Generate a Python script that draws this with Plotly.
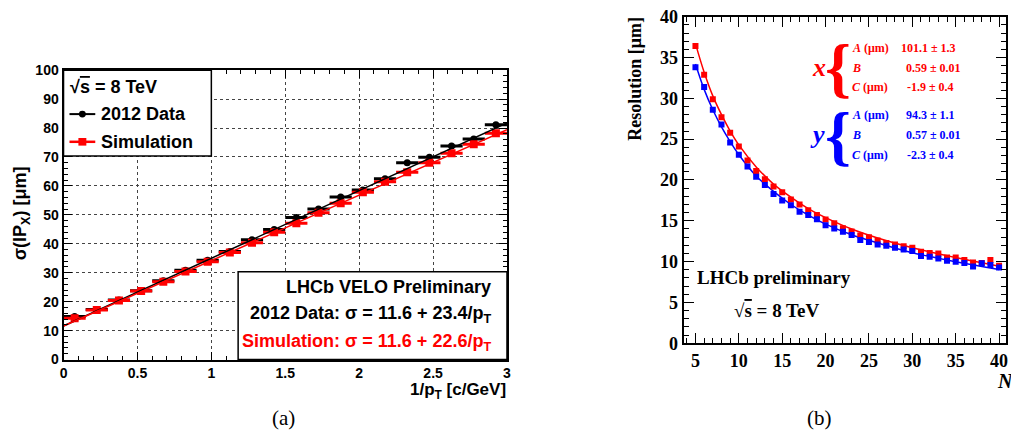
import plotly.graph_objects as go

# ---------------- data: panel (a) ----------------
inv_pt = [0.075, 0.225, 0.375, 0.525, 0.675, 0.825, 0.975, 1.125, 1.275, 1.425,
          1.575, 1.725, 1.875, 2.025, 2.175, 2.325, 2.475, 2.625, 2.775, 2.925]
data_sigma = [14.9, 17.3, 20.6, 23.8, 27.2, 30.9, 34.3, 37.3, 41.4, 44.9,
              49.1, 52.0, 56.2, 58.6, 62.5, 68.0, 69.9, 73.8, 76.2, 81.1]
sim_sigma = [14.3, 17.1, 20.4, 23.7, 26.9, 30.4, 33.8, 37.0, 40.4, 44.0,
             47.1, 50.7, 54.0, 57.8, 61.4, 64.7, 68.0, 71.3, 74.4, 78.2]
bin_half = [0.075] * 20
fit_x = [0.0, 3.0]
data_fit = [11.6, 81.8]
sim_fit = [11.6, 79.4]

# ---------------- data: panel (b) ----------------
n_hits = [5, 6, 7, 8, 9, 10, 11, 12, 13, 14, 15, 16, 17, 18, 19, 20, 21, 22,
          23, 24, 25, 26, 27, 28, 29, 30, 31, 32, 33, 34, 35, 36, 37, 38, 39, 40]
res_x = [36.4, 32.9, 29.9, 27.7, 25.8, 24.1, 22.4, 21.1, 20.1, 19.2, 18.5, 17.6,
         17.0, 16.3, 15.7, 15.15, 14.7, 14.1, 13.7, 13.2, 13.0, 12.6, 12.3, 12.1,
         11.9, 11.7, 11.2, 11.05, 11.0, 10.5, 10.5, 10.2, 9.9, 9.85, 10.2, 9.5]
res_y = [33.8, 31.4, 28.6, 26.8, 24.6, 23.1, 21.65, 20.4, 19.4, 18.3, 17.5, 16.9,
         16.1, 15.7, 15.2, 14.45, 14.05, 13.65, 13.25, 12.65, 12.4, 12.1, 11.95, 11.7,
         11.5, 11.3, 10.7, 10.6, 10.4, 10.1, 10.0, 9.85, 9.4, 9.8, 9.6, 9.3]
curve_n = [5, 6, 7, 8, 9, 10, 12, 14, 16, 18, 20, 23, 26, 30, 35, 40]
curve_x = [36.7, 33.2, 30.3, 28.0, 26.0, 24.3, 21.6, 19.5, 17.9, 16.5, 15.4, 14.0, 12.9, 11.7, 10.5, 9.45]
curve_y = [34.2, 31.1, 28.6, 26.5, 24.7, 23.1, 20.5, 18.6, 17.0, 15.7, 14.6, 13.3, 12.3, 11.1, 10.0, 9.05]

fit_rows_x = [("<i>A</i> (μm)", "101.1 ± 1.3"), ("<i>B</i>", "0.59 ± 0.01"), ("<i>C</i> (μm)", "-1.9 ± 0.4")]
fit_rows_y = [("<i>A</i> (μm)", "94.3 ± 1.1"), ("<i>B</i>", "0.57 ± 0.01"), ("<i>C</i> (μm)", "-2.3 ± 0.4")]

W, H = 1011, 445
def fx(p): return p / W
def fy(p): return 1 - p / H

SANS = "Liberation Sans"
SERIF = "Liberation Serif"
RED = "#ff0000"
BLUE = "#0000ff"

fig = go.Figure()

# panel (a) traces
fig.add_trace(go.Scatter(x=inv_pt, y=data_sigma, mode="markers",
                         marker=dict(symbol="circle", size=7, color="black"),
                         error_x=dict(type="data", array=bin_half, color="black", thickness=3, width=0),
                         xaxis="x", yaxis="y", showlegend=False))
fig.add_trace(go.Scatter(x=inv_pt, y=sim_sigma, mode="markers",
                         marker=dict(symbol="square", size=8, color=RED),
                         error_x=dict(type="data", array=bin_half, color=RED, thickness=3, width=0),
                         xaxis="x", yaxis="y", showlegend=False))
fig.add_trace(go.Scatter(x=fit_x, y=data_fit, mode="lines", line=dict(color="black", width=1.5),
                         xaxis="x", yaxis="y", showlegend=False))
fig.add_trace(go.Scatter(x=fit_x, y=sim_fit, mode="lines", line=dict(color=RED, width=1.5),
                         xaxis="x", yaxis="y", showlegend=False))

# panel (b) traces
fig.add_trace(go.Scatter(x=curve_n, y=curve_x, mode="lines", line=dict(color=RED, width=1.5, shape="spline"),
                         xaxis="x2", yaxis="y2", showlegend=False))
fig.add_trace(go.Scatter(x=curve_n, y=curve_y, mode="lines", line=dict(color=BLUE, width=1.5, shape="spline"),
                         xaxis="x2", yaxis="y2", showlegend=False))
fig.add_trace(go.Scatter(x=n_hits, y=res_x, mode="markers", marker=dict(symbol="square", size=6, color=RED),
                         xaxis="x2", yaxis="y2", showlegend=False))
fig.add_trace(go.Scatter(x=n_hits, y=res_y, mode="markers", marker=dict(symbol="square", size=6, color=BLUE),
                         xaxis="x2", yaxis="y2", showlegend=False))

def axis_common(font_family, size, ticklen):
    return dict(showline=True, linecolor="black", linewidth=2, mirror="allticks",
                ticks="inside", ticklen=ticklen, tickwidth=1, tickcolor="black",
                zeroline=False, tickfont=dict(family=font_family, size=size, color="black", weight="bold"))

ax = axis_common(SANS, 14, 8)
fig.update_layout(
    width=W, height=H, margin=dict(l=0, r=0, t=0, b=0),
    paper_bgcolor="white", plot_bgcolor="white",
    xaxis=dict(**ax, domain=[fx(60), fx(507)], range=[0, 3], tick0=0, dtick=0.5,
               showgrid=True, gridcolor="#444", griddash="dot", gridwidth=1,
               minor=dict(ticks="inside", dtick=0.1, ticklen=4, tickcolor="black", showgrid=False),
               anchor="y"),
    yaxis=dict(**ax, domain=[1 - 366 / H, 1 - 63 / H], range=[0, 100], tick0=0, dtick=10,
               showgrid=True, gridcolor="#444", griddash="dot", gridwidth=1,
               minor=dict(ticks="inside", dtick=2, ticklen=4, tickcolor="black", showgrid=False),
               anchor="x"),
)
ax2 = axis_common(SERIF, 18, 10)
fig.update_layout(
    xaxis2=dict(**ax2, domain=[fx(685), fx(1010)], range=[3.63, 40.8], tick0=0, dtick=5,
                showgrid=False,
                minor=dict(ticks="inside", dtick=1, ticklen=5, tickcolor="black", showgrid=False),
                anchor="y2"),
    yaxis2=dict(**ax2, domain=[1 - 349 / H, 1 - 7 / H], range=[0, 40], tick0=0, dtick=5,
                showgrid=False,
                minor=dict(ticks="inside", dtick=1, ticklen=5, tickcolor="black", showgrid=False),
                anchor="x2"),
)

shapes = []
annos = []

def text(x, y, s, size, family, color="black", xanchor="left", bold=True, angle=0, italic=False):
    annos.append(dict(x=fx(x), y=fy(y), xref="paper", yref="paper", text=s, showarrow=False,
                      xanchor=xanchor, yanchor="middle", textangle=angle,
                      font=dict(family=family, size=size, color=color,
                                weight="bold" if bold else "normal",
                                style="italic" if italic else "normal")))

def rect(x0, y0, x1, y1, fill="white", line="black", lw=1.5):
    shapes.append(dict(type="rect", xref="paper", yref="paper", x0=fx(x0), x1=fx(x1), y0=fy(y1), y1=fy(y0),
                       fillcolor=fill, line=dict(color=line, width=lw), layer="above"))

def seg(x0, y0, x1, y1, color, lw):
    shapes.append(dict(type="line", xref="paper", yref="paper", x0=fx(x0), x1=fx(x1), y0=fy(y0), y1=fy(y1),
                       line=dict(color=color, width=lw), layer="above"))

# panel (a) legend box
rect(60, 63, 209, 153)
text(65, 81, "√<span style='text-decoration:overline'>s</span> = 8 TeV", 18, SANS)
seg(66, 109, 92, 109, "black", 2)
shapes.append(dict(type="circle", xref="paper", yref="paper", x0=fx(75.5), x1=fx(82.5), y0=fy(112.5), y1=fy(105.5),
                   fillcolor="black", line=dict(color="black", width=0), layer="above"))
text(96, 109, "2012 Data", 18, SANS)
seg(66, 138, 92, 138, RED, 2.5)
shapes.append(dict(type="rect", xref="paper", yref="paper", x0=fx(75), x1=fx(83), y0=fy(142), y1=fy(134),
                   fillcolor=RED, line=dict(color=RED, width=0), layer="above"))
text(96, 138, "Simulation", 18, SANS)

# panel (a) result box
rect(236, 274, 507, 366)
text(493, 290, "LHCb VELO Preliminary", 18, SANS, xanchor="right")
text(493, 319, "2012 Data: σ = 11.6 + 23.4/p<sub>T</sub>", 18, SANS, xanchor="right")
text(493, 348, "Simulation: σ = 11.6 + 22.6/p<sub>T</sub>", 18, SANS, color=RED, xanchor="right")

# axis titles (a)
text(18, 213, "σ(IP<sub>X</sub>) [μm]", 18, SANS, xanchor="center", angle=-90)
text(508, 399, "1/p<sub>T</sub> [c/GeV]", 17, SANS, xanchor="right")

# panel (b) texts
text(636, 72, "Resolution [μm]", 18, SERIF, xanchor="center", angle=-90)
text(999, 388, "N", 20, SERIF, italic=True)
text(821, 60, "x", 26, SERIF, color=RED, xanchor="center", italic=True)
text(841, 60, "{", 66, SERIF, color=RED, xanchor="center", bold=True)
text(820, 130, "y", 26, SERIF, color=BLUE, xanchor="center", italic=True)
text(841, 131, "{", 66, SERIF, color=BLUE, xanchor="center", bold=True)
for (lab, val), yy, vx in zip(fit_rows_x, [40, 61, 81], [902, 907, 908]):
    text(853, yy, lab, 12, SERIF, color=RED)
    text(vx, yy, val, 12, SERIF, color=RED)
for (lab, val), yy, vx in zip(fit_rows_y, [110, 131, 152], [907, 907, 908]):
    text(853, yy, lab, 12, SERIF, color=BLUE)
    text(vx, yy, val, 12, SERIF, color=BLUE)
text(697, 280, "LHCb preliminary", 19, SERIF)
text(734, 315, "√<span style='text-decoration:overline'>s</span> = 8 TeV", 19, SERIF)

# captions
text(282, 427, "(a)", 21, SERIF, xanchor="center", bold=False)
text(822, 427, "(b)", 21, SERIF, xanchor="center", bold=False)

fig.update_layout(shapes=shapes, annotations=annos)
fig.write_html("out.html")
